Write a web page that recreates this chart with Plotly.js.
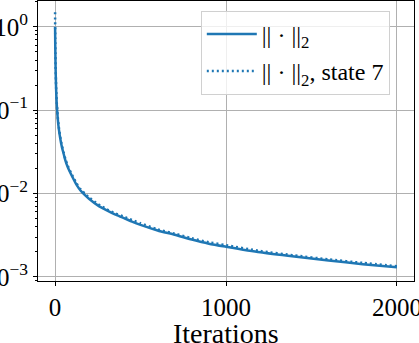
<!DOCTYPE html>
<html>
<head>
<meta charset="utf-8">
<script src="https://cdn.plot.ly/plotly-3.0.1.min.js"></script>
<style>html,body{margin:0;padding:0;background:#fff;}#chart{width:419px;height:343px;}</style>
</head>
<body>
<div id="chart"></div>
<script>
const iterations = [0, 1, 2, 3, 5, 7, 10, 15, 20, 30, 40, 50, 60, 75, 100, 125, 150, 175, 200, 250, 300, 350, 400, 450, 500, 600, 700, 800, 900, 1000, 1200, 1400, 1600, 1800, 2000];
const normL2 = [1.0, 0.6, 0.42, 0.32, 0.21, 0.155, 0.115, 0.082, 0.064, 0.046, 0.036, 0.030, 0.025, 0.0205, 0.0160, 0.0128, 0.0108, 0.00955, 0.0086, 0.0072, 0.0063, 0.0056, 0.0051, 0.0046, 0.0042, 0.0036, 0.0032, 0.0028, 0.0025, 0.0023, 0.00197, 0.00175, 0.00157, 0.00142, 0.0013];
const normL2State7 = [1.5, 0.72, 0.48, 0.35, 0.225, 0.165, 0.121, 0.086, 0.067, 0.048, 0.0375, 0.0312, 0.026, 0.0213, 0.0166, 0.0133, 0.0112, 0.0099, 0.0089, 0.0075, 0.0065, 0.0058, 0.0053, 0.0048, 0.0044, 0.0037, 0.0033, 0.0029, 0.0026, 0.0024, 0.00204, 0.00181, 0.00162, 0.00147, 0.00134];
const seriesNames = ["|| · ||<sub>2</sub>", "|| · ||<sub>2</sub>, state 7"];
const xTitle = 'Iterations';
const xTickVals = [0, 1000, 2000];
const yTickVals = [1, 0.1, 0.01, 0.001];
const yTickText = ["10<sup>0</sup>", "10<sup>−1</sup>", "10<sup>−2</sup>", "10<sup>−3</sup>"];

const blue = '#1f77b4';
const font = 'Liberation Serif, DejaVu Serif, serif';

const traces = [
  {x: iterations, y: normL2, name: seriesNames[0], legendgroup: 'a', type: 'scatter', mode: 'lines',
   line: {color: blue, width: 2.5, shape: 'spline', smoothing: 0.6}},
  {x: iterations, y: normL2State7, name: seriesNames[1], legendgroup: 'b', type: 'scatter', mode: 'lines',
   line: {color: blue, width: 2.5, dash: '2px,3px', shape: 'spline', smoothing: 0.6}}
];

const layout = {
  width: 419, height: 343,
  margin: {l: 38, r: 5, t: 1, b: 62},
  paper_bgcolor: '#fff', plot_bgcolor: '#fff',
  font: {family: font, size: 25, color: '#000'},
  showlegend: true,
  legend: {x: 0.433, y: 0.965, xanchor: 'left', yanchor: 'top',
    bgcolor: 'rgba(255,255,255,0.8)', bordercolor: '#d0d0d0', borderwidth: 1,
    font: {family: font, size: 24, color: '#000'}, itemwidth: 50, tracegroupgap: 3},
  annotations: [{text: xTitle, xref: 'paper', yref: 'paper', x: 0.5, y: 0,
    xanchor: 'center', yanchor: 'top', yshift: -35, showarrow: false,
    font: {family: font, size: 28, color: '#000'}}],
  xaxis: {range: [-100, 2100], tickvals: xTickVals, ticktext: xTickVals.map(String),
    showgrid: true, gridcolor: '#b0b0b0', gridwidth: 1, zeroline: false,
    showline: true, mirror: true, linecolor: '#000', linewidth: 1,
    ticks: 'outside', ticklen: 4, tickcolor: '#000', tickwidth: 1,
    ticklabeloverflow: 'allow',
    tickfont: {family: font, size: 25}},
  yaxis: {type: 'log', range: [-3.05, 0.31], tickvals: yTickVals, ticktext: yTickText,
    showgrid: true, gridcolor: '#b0b0b0', gridwidth: 1, zeroline: false,
    showline: true, mirror: true, linecolor: '#000', linewidth: 1,
    ticks: 'outside', ticklen: 4, tickcolor: '#000', tickwidth: 1,
    ticklabeloverflow: 'allow',
    tickfont: {family: font, size: 25},
    minor: {ticks: 'outside', ticklen: 2, tickcolor: '#000', tickwidth: 1, showgrid: false, dtick: 'D1'}}
};

Plotly.newPlot('chart', traces, layout, {staticPlot: true, displayModeBar: false});
</script>
</body>
</html>
